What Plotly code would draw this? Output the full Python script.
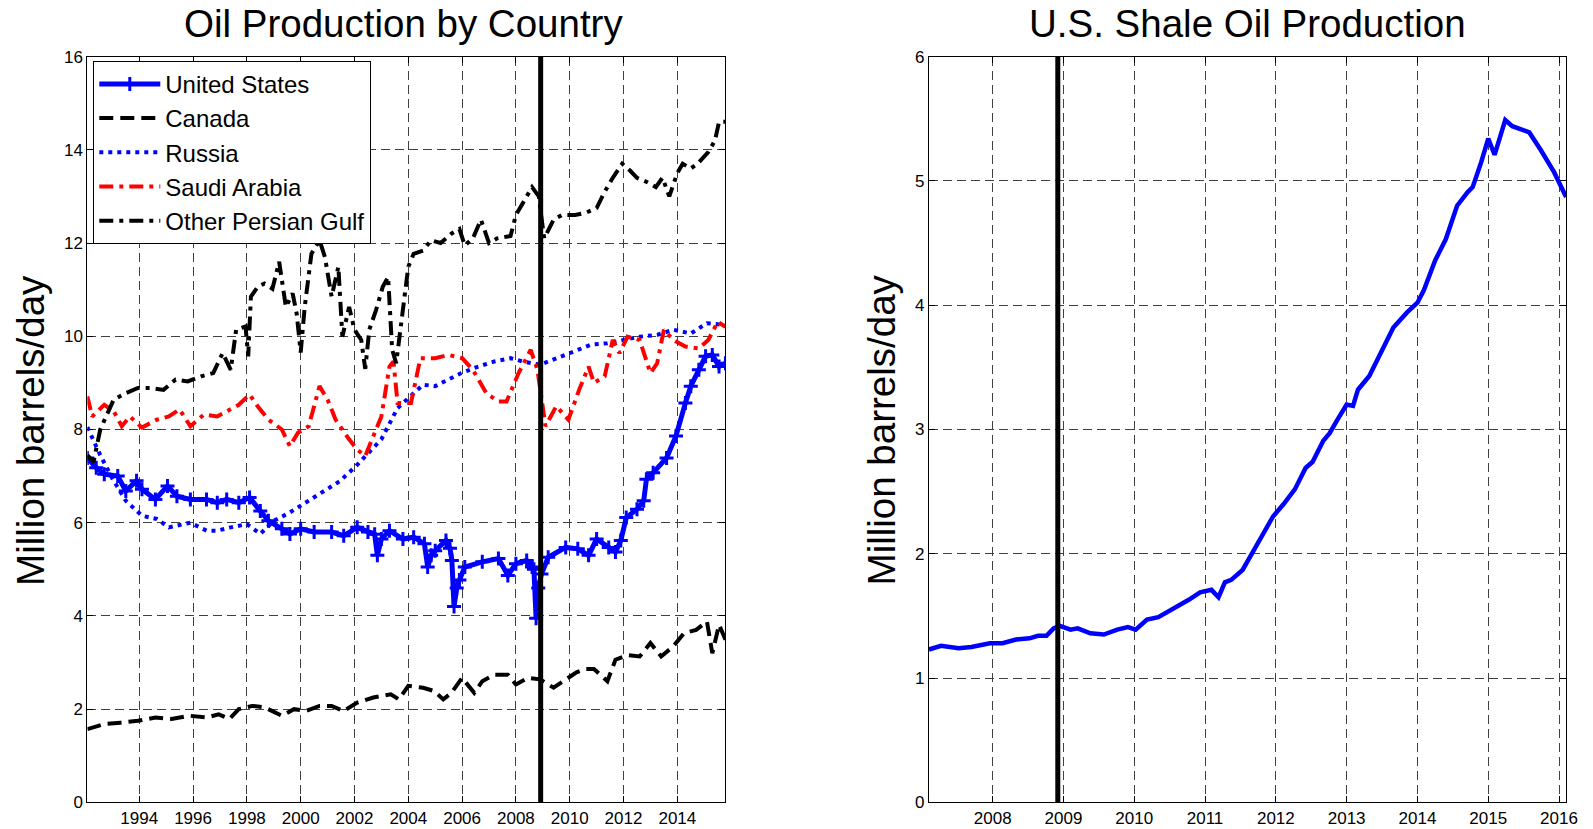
import plotly.graph_objects as go

# ---------------- data (decimal year, million barrels/day) ----------------
us_data = [
    (1992.07, 7.39), (1992.4, 7.18), (1992.7, 7.04), (1993.2, 7.0), (1993.5, 6.68), (1993.9, 6.9),
    (1994.1, 6.72), (1994.6, 6.5), (1995.05, 6.79), (1995.4, 6.57), (1995.9, 6.5), (1996.5, 6.5),
    (1996.9, 6.43), (1997.25, 6.5), (1997.7, 6.43), (1998.1, 6.54), (1998.5, 6.25), (1998.8, 6.04),
    (1999.3, 5.87), (1999.6, 5.76), (2000.0, 5.87), (2000.5, 5.8), (2001.15, 5.8), (2001.6, 5.72),
    (2002.1, 5.9), (2002.5, 5.8), (2002.75, 5.75), (2002.85, 5.3), (2003.0, 5.65), (2003.3, 5.83),
    (2003.8, 5.65), (2004.2, 5.69), (2004.6, 5.55), (2004.72, 5.05), (2004.85, 5.3), (2005.0, 5.4),
    (2005.4, 5.62), (2005.55, 5.45), (2005.62, 5.19), (2005.7, 4.2), (2005.8, 4.6), (2005.9, 4.77),
    (2006.1, 5.05), (2006.75, 5.16), (2007.35, 5.23), (2007.7, 4.87), (2008.0, 5.12), (2008.4, 5.19),
    (2008.6, 5.05), (2008.67, 5.0), (2008.75, 3.95), (2008.83, 4.6), (2008.95, 4.9), (2009.2, 5.26),
    (2009.85, 5.47), (2010.3, 5.44), (2010.7, 5.3), (2011.0, 5.65), (2011.45, 5.47), (2011.7, 5.37),
    (2011.9, 5.62), (2012.1, 6.11), (2012.5, 6.29), (2012.75, 6.47), (2012.85, 6.93), (2013.1, 7.07),
    (2013.6, 7.39), (2013.95, 7.86), (2014.3, 8.57), (2014.5, 8.93), (2014.8, 9.28), (2015.05, 9.57),
    (2015.3, 9.6), (2015.55, 9.35), (2015.79, 9.42),
]
canada_data = [
    (1992.07, 1.57), (1992.7, 1.68), (1993.3, 1.71), (1993.95, 1.75), (1994.6, 1.82), (1995.2, 1.79),
    (1995.85, 1.86), (1996.5, 1.82), (1996.95, 1.89), (1997.35, 1.79), (1997.7, 2.0), (1998.2, 2.07),
    (1998.65, 2.04), (1999.3, 1.86), (1999.75, 2.0), (2000.2, 1.96), (2000.7, 2.07), (2001.15, 2.07),
    (2001.6, 1.96), (2002.1, 2.14), (2002.7, 2.25), (2003.35, 2.32), (2003.65, 2.21), (2004.0, 2.5),
    (2004.55, 2.46), (2004.95, 2.39), (2005.3, 2.21), (2005.6, 2.35), (2006.0, 2.67), (2006.45, 2.35),
    (2006.75, 2.6), (2007.2, 2.74), (2007.7, 2.74), (2008.0, 2.53), (2008.45, 2.67), (2008.9, 2.64),
    (2009.4, 2.46), (2009.85, 2.64), (2010.25, 2.79), (2010.6, 2.86), (2010.9, 2.86), (2011.4, 2.6),
    (2011.7, 3.06), (2012.15, 3.16), (2012.6, 3.13), (2013.0, 3.42), (2013.4, 3.13), (2013.85, 3.35),
    (2014.25, 3.63), (2014.7, 3.7), (2015.1, 3.88), (2015.3, 3.2), (2015.55, 3.81), (2015.79, 3.49),
]
russia_data = [
    (1992.07, 8.05), (1992.3, 7.75), (1992.55, 7.45), (1993.0, 6.95), (1993.5, 6.47), (1994.1, 6.15),
    (1994.65, 6.08), (1995.1, 5.9), (1995.9, 6.0), (1996.5, 5.83), (1996.9, 5.83), (1997.4, 5.9),
    (1998.0, 5.97), (1998.5, 5.76), (1999.0, 6.04), (1999.6, 6.22), (2000.2, 6.43), (2000.8, 6.65),
    (2001.45, 6.89), (2002.05, 7.21), (2002.7, 7.6), (2003.0, 7.79), (2003.6, 8.46), (2004.1, 8.71),
    (2004.55, 8.96), (2005.0, 8.93), (2005.5, 9.07), (2005.97, 9.21), (2006.6, 9.35), (2007.2, 9.46),
    (2007.8, 9.53), (2008.25, 9.46), (2008.9, 9.39), (2009.5, 9.53), (2010.2, 9.67), (2010.8, 9.82),
    (2011.4, 9.85), (2012.0, 9.92), (2012.6, 9.99), (2013.25, 10.03), (2013.85, 10.14), (2014.5, 10.06),
    (2015.1, 10.28), (2015.79, 10.24),
]
saudi_data = [
    (1992.07, 8.71), (1992.25, 8.28), (1992.7, 8.53), (1993.05, 8.39), (1993.35, 8.07), (1993.65, 8.28),
    (1994.1, 8.04), (1994.65, 8.21), (1995.1, 8.28), (1995.5, 8.43), (1995.9, 8.07), (1996.4, 8.32),
    (1996.9, 8.28), (1997.4, 8.43), (1997.7, 8.53), (1998.1, 8.75), (1998.4, 8.5), (1998.8, 8.21),
    (1999.3, 8.0), (1999.6, 7.64), (1999.9, 7.93), (2000.3, 8.07), (2000.7, 8.93), (2001.0, 8.64),
    (2001.3, 8.21), (2001.8, 7.79), (2002.1, 7.57), (2002.4, 7.43), (2002.7, 7.86), (2003.0, 8.28),
    (2003.3, 9.35), (2003.45, 9.46), (2003.6, 8.57), (2004.1, 8.57), (2004.45, 9.53), (2005.0, 9.53),
    (2005.5, 9.6), (2006.0, 9.53), (2006.4, 9.28), (2006.9, 8.78), (2007.35, 8.6), (2007.65, 8.6),
    (2008.1, 9.21), (2008.55, 9.71), (2008.8, 9.28), (2009.1, 8.07), (2009.5, 8.5), (2009.95, 8.21),
    (2010.35, 8.85), (2010.7, 9.35), (2010.9, 9.0), (2011.3, 9.14), (2011.6, 9.92), (2011.85, 9.64),
    (2012.15, 9.99), (2012.6, 9.92), (2013.0, 9.21), (2013.25, 9.42), (2013.5, 10.14), (2013.85, 9.92),
    (2014.3, 9.78), (2014.8, 9.74), (2015.15, 9.92), (2015.5, 10.31), (2015.79, 10.2),
]
gulf_data = [
    (1992.07, 7.45), (1992.3, 7.3), (1992.55, 8.0), (1993.05, 8.64), (1993.5, 8.78), (1993.95, 8.89),
    (1994.4, 8.89), (1994.9, 8.85), (1995.35, 9.07), (1995.8, 9.03), (1996.3, 9.14), (1996.75, 9.21),
    (1997.1, 9.64), (1997.4, 9.28), (1997.6, 10.14), (1997.95, 10.21), (1998.05, 9.57), (1998.15, 10.85),
    (1998.4, 11.06), (1998.65, 11.13), (1998.95, 11.02), (1999.2, 11.6), (1999.45, 10.63), (1999.7, 10.92),
    (1999.85, 10.49), (2000.0, 9.65), (2000.15, 10.63), (2000.4, 11.77), (2000.7, 12.06), (2000.9, 11.7),
    (2001.15, 10.85), (2001.4, 11.49), (2001.55, 9.99), (2001.8, 10.63), (2002.0, 10.14), (2002.25, 9.92),
    (2002.4, 9.3), (2002.55, 10.14), (2002.8, 10.56), (2003.05, 11.06), (2003.25, 11.27), (2003.4, 9.71),
    (2003.55, 9.42), (2003.8, 10.49), (2004.0, 11.49), (2004.2, 11.77), (2004.55, 11.84), (2004.85, 12.06),
    (2005.2, 12.0), (2005.6, 12.2), (2005.9, 12.3), (2006.1, 11.95), (2006.4, 12.1), (2006.7, 12.5),
    (2007.0, 12.0), (2007.3, 12.1), (2007.8, 12.15), (2008.0, 12.6), (2008.3, 12.9), (2008.6, 13.2),
    (2008.85, 13.0), (2009.05, 12.1), (2009.4, 12.5), (2009.7, 12.6), (2010.2, 12.6), (2010.6, 12.65),
    (2011.0, 12.75), (2011.3, 13.1), (2011.6, 13.4), (2011.95, 13.7), (2012.25, 13.55), (2012.5, 13.4),
    (2012.9, 13.3), (2013.2, 13.2), (2013.45, 13.4), (2013.7, 13.0), (2014.0, 13.5), (2014.2, 13.7),
    (2014.5, 13.6), (2014.75, 13.7), (2015.15, 13.95), (2015.4, 14.2), (2015.55, 14.6), (2015.79, 14.6),
]
shale_data = [
    (2007.1, 1.23), (2007.27, 1.26), (2007.52, 1.24), (2007.7, 1.25), (2007.96, 1.28), (2008.14, 1.28),
    (2008.33, 1.31), (2008.52, 1.32), (2008.64, 1.34), (2008.76, 1.34), (2008.86, 1.4), (2008.95, 1.42),
    (2009.1, 1.39), (2009.2, 1.4), (2009.38, 1.36), (2009.57, 1.35), (2009.76, 1.39), (2009.91, 1.41),
    (2010.02, 1.39), (2010.18, 1.47), (2010.34, 1.49), (2010.46, 1.53), (2010.61, 1.57), (2010.77, 1.63),
    (2010.93, 1.69), (2011.09, 1.71), (2011.19, 1.65), (2011.28, 1.77), (2011.37, 1.79), (2011.53, 1.87),
    (2011.68, 2.02), (2011.84, 2.17), (2011.96, 2.3), (2012.11, 2.4), (2012.27, 2.52), (2012.42, 2.69),
    (2012.52, 2.74), (2012.67, 2.91), (2012.76, 2.97), (2012.86, 3.07), (2012.92, 3.12), (2013.0, 3.2),
    (2013.09, 3.19), (2013.16, 3.32), (2013.32, 3.43), (2013.47, 3.61), (2013.66, 3.82), (2013.85, 3.94),
    (2014.0, 4.02), (2014.09, 4.12), (2014.25, 4.36), (2014.4, 4.53), (2014.56, 4.8), (2014.71, 4.91),
    (2014.78, 4.95), (2014.9, 5.15), (2015.0, 5.34), (2015.09, 5.21), (2015.24, 5.49), (2015.34, 5.44),
    (2015.43, 5.42), (2015.58, 5.39), (2015.74, 5.25), (2015.93, 5.07), (2016.1, 4.87),
]
event_year = 2008.92  # vertical marker (Dec 2008)

left_xticks = [1994, 1996, 1998, 2000, 2002, 2004, 2006, 2008, 2010, 2012, 2014]
left_yticks = [0, 2, 4, 6, 8, 10, 12, 14, 16]
right_xticks = [2008, 2009, 2010, 2011, 2012, 2013, 2014, 2015, 2016]
right_yticks = [0, 1, 2, 3, 4, 5, 6]


def unzip(data):
    return [p[0] for p in data], [p[1] for p in data]


W, H = 1593, 829
FONT = "Liberation Sans, Arial, Helvetica, sans-serif"

fig = go.Figure()

series = [
    ("United States", us_data, dict(color="#0000FF", width=5, dash="solid"), True),
    ("Canada", canada_data, dict(color="#000000", width=4, dash="14px,7px"), False),
    ("Russia", russia_data, dict(color="#0000FF", width=4, dash="4px,5px"), False),
    ("Saudi Arabia", saudi_data, dict(color="#FF0000", width=4, dash="14px,6px,4px,6px"), False),
    ("Other Persian Gulf", gulf_data, dict(color="#000000", width=4, dash="14px,6px,4px,6px"), False),
]
for name, data, line, mk in series:
    xs, ys = unzip(data)
    fig.add_trace(go.Scatter(
        x=xs, y=ys, name=name, xaxis="x", yaxis="y",
        mode="lines+markers" if mk else "lines", line=line,
        marker=dict(symbol="cross-thin", size=10, line=dict(width=3, color="#0000FF")) if mk else None,
    ))

sx, sy = unzip(shale_data)
fig.add_trace(go.Scatter(x=sx, y=sy, name="U.S. Shale", xaxis="x2", yaxis="y2", mode="lines",
                         line=dict(color="#0000FF", width=4.5), showlegend=False))

# vertical event lines
for xr, yr, yr_max in [("x", "y", left_yticks[-1]), ("x2", "y2", right_yticks[-1])]:
    fig.add_shape(type="line", xref=xr, yref=yr, x0=event_year, x1=event_year, y0=0, y1=yr_max,
                  line=dict(color="black", width=5))

# panel geometry in pixels
L0, L1 = 88, 731
R0, R1 = 936, 1578
TOP, BOT = 48.7, 812
ydom = [1 - BOT / H, 1 - TOP / H]
ymid = 1 - 431 / H

axis_common = dict(
    showline=True, linecolor="black", linewidth=1, mirror="ticks",
    ticks="inside", ticklen=6, tickcolor="black", tickwidth=1,
    showgrid=True, gridcolor="#404040", gridwidth=1, griddash="9px,5px",
    zeroline=False, tickfont=dict(family=FONT, size=17, color="black"),
)

fig.update_layout(
    width=W, height=H, autosize=False,
    margin=dict(l=0, r=0, t=0, b=0),
    paper_bgcolor="white", plot_bgcolor="white",
    font=dict(family=FONT, color="black"),
    xaxis=dict(domain=[L0 / W, L1 / W], range=[1992.07, 2015.79], tickvals=left_xticks,
               anchor="y", **axis_common),
    yaxis=dict(domain=ydom, range=[0, 16], tickvals=left_yticks, anchor="x", **axis_common),
    xaxis2=dict(domain=[R0 / W, R1 / W], range=[2007.1, 2016.1], tickvals=right_xticks,
                anchor="y2", **axis_common),
    yaxis2=dict(domain=ydom, range=[0, 6], tickvals=right_yticks, anchor="x2", **axis_common),
    showlegend=True,
    legend=dict(x=94 / W, y=1 - 53 / H, xanchor="left", yanchor="top",
                bgcolor="white", bordercolor="black", borderwidth=1, itemwidth=61,
                font=dict(family=FONT, size=24, color="black"), tracegroupgap=0),
    annotations=[
        dict(text="Oil Production by Country", x=407 / W, y=1 - 14.5 / H, xref="paper",
             yref="paper", showarrow=False, font=dict(family=FONT, size=38.5, color="black"),
             xanchor="center", yanchor="middle"),
        dict(text="U.S. Shale Oil Production", x=1257 / W, y=1 - 14.5 / H, xref="paper",
             yref="paper", showarrow=False, font=dict(family=FONT, size=38.5, color="black"),
             xanchor="center", yanchor="middle"),
        dict(text="Million barrels/day", x=30 / W, y=ymid, xref="paper",
             yref="paper", showarrow=False, textangle=-90, font=dict(family=FONT, size=38.5, color="black"),
             xanchor="center", yanchor="middle"),
        dict(text="Million barrels/day", x=888 / W, y=ymid, xref="paper",
             yref="paper", showarrow=False, textangle=-90, font=dict(family=FONT, size=38.5, color="black"),
             xanchor="center", yanchor="middle"),
    ],
)

fig.write_html("out.html", config={"displayModeBar": False},
               post_script="document.body.style.margin='0';document.body.style.overflow='hidden';")
